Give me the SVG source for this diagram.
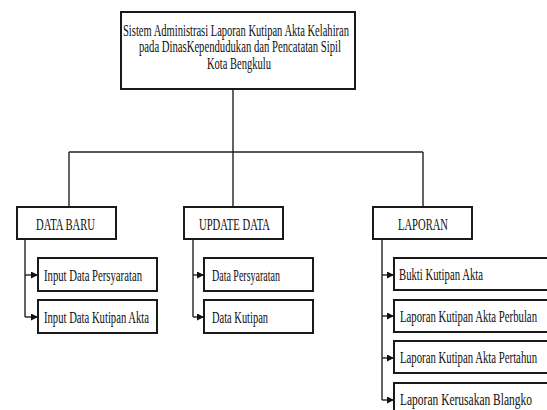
<svg xmlns="http://www.w3.org/2000/svg" width="547" height="410" viewBox="0 0 547 410">
<style>
.box{fill:#fff;stroke:#1a1a1a;stroke-width:2}
.ln{fill:none;stroke:#222;stroke-width:1.4}
.ar{fill:none;stroke:#222;stroke-width:1.4;marker-end:url(#ah)}
text{font-family:"Liberation Serif","Times New Roman",serif;fill:#111}
.t{font-size:16.5px}
.h{font-size:16px;text-anchor:middle}
.c{text-anchor:middle}
</style>
<defs>
<marker id="ah" viewBox="0 0 8 8" refX="8" refY="4" markerWidth="7" markerHeight="7" markerUnits="userSpaceOnUse" orient="auto">
<path d="M0,0 L8,4 L0,8 z" fill="#111"/>
</marker>
</defs>
<rect width="547" height="410" fill="#fff"/>
<g id="connectors">
<path class="ln" d="M233,89 V152 M69,152 H423 M69,152 V207 M233,152 V207 M423,152 V207"/>
<path class="ln" d="M25,239 V317 M193,239 V317 M382,239 V400"/>
<path class="ar" d="M25,275 H38"/>
<path class="ar" d="M25,317 H38"/>
<path class="ar" d="M193,275 H204"/>
<path class="ar" d="M193,317 H204"/>
<path class="ar" d="M382,275 H394"/>
<path class="ar" d="M382,316 H394"/>
<path class="ar" d="M382,358 H394"/>
<path class="ar" d="M382,400 H394"/>
</g>
<g id="root">
<rect class="box" x="121" y="12" width="234" height="77"/>
<text class="h" x="236" y="35.5" textLength="226" lengthAdjust="spacingAndGlyphs">Sistem Administrasi Laporan Kutipan Akta Kelahiran</text>
<text class="h" x="240" y="52" textLength="202" lengthAdjust="spacingAndGlyphs">pada DinasKependudukan dan Pencatatan Sipil</text>
<text class="h" x="239" y="68.5" textLength="64" lengthAdjust="spacingAndGlyphs">Kota Bengkulu</text>
</g>
<g id="data-baru">
<rect class="box" x="17" y="207" width="99" height="32"/>
<text class="t c" x="65.5" y="229.5" textLength="59" lengthAdjust="spacingAndGlyphs">DATA BARU</text>
</g>
<g id="update-data">
<rect class="box" x="184" y="207" width="99" height="32"/>
<text class="t c" x="234.5" y="229.5" textLength="71" lengthAdjust="spacingAndGlyphs">UPDATE DATA</text>
</g>
<g id="laporan">
<rect class="box" x="373" y="207" width="99" height="32"/>
<text class="t c" x="423" y="229.5" textLength="50" lengthAdjust="spacingAndGlyphs">LAPORAN</text>
</g>
<g id="input-data-persyaratan">
<rect class="box" x="38" y="258" width="119" height="33"/>
<text class="t" x="44" y="280.5" textLength="98" lengthAdjust="spacingAndGlyphs">Input Data Persyaratan</text>
</g>
<g id="input-data-kutipan-akta">
<rect class="box" x="38" y="300" width="119" height="33"/>
<text class="t" x="44" y="322.5" textLength="105" lengthAdjust="spacingAndGlyphs">Input Data Kutipan Akta</text>
</g>
<g id="data-persyaratan">
<rect class="box" x="204" y="258" width="109" height="33"/>
<text class="t" x="212" y="280.5" textLength="68" lengthAdjust="spacingAndGlyphs">Data Persyaratan</text>
</g>
<g id="data-kutipan">
<rect class="box" x="204" y="300" width="109" height="33"/>
<text class="t" x="212" y="322.5" textLength="56" lengthAdjust="spacingAndGlyphs">Data Kutipan</text>
</g>
<g id="bukti-kutipan-akta">
<path class="box" d="M548,258 H394 V290 H548"/>
<text class="t" transform="translate(399,279.5) scale(0.65,1)" textLength="129.2" lengthAdjust="spacingAndGlyphs">Bukti Kutipan Akta</text>
</g>
<g id="laporan-perbulan">
<path class="box" d="M548,300 H394 V332 H548"/>
<text class="t" transform="translate(400,321.5) scale(0.65,1)" textLength="210.8" lengthAdjust="spacingAndGlyphs">Laporan Kutipan Akta Perbulan</text>
</g>
<g id="laporan-pertahun">
<path class="box" d="M548,341 H394 V373 H548"/>
<text class="t" transform="translate(400,362.5) scale(0.65,1)" textLength="210.8" lengthAdjust="spacingAndGlyphs">Laporan Kutipan Akta Pertahun</text>
</g>
<g id="laporan-kerusakan-blangko">
<path class="box" d="M548,383 H394 V412"/>
<text class="t" transform="translate(400,404.5) scale(0.65,1)" textLength="203.1" lengthAdjust="spacingAndGlyphs">Laporan Kerusakan Blangko</text>
</g>
</svg>
